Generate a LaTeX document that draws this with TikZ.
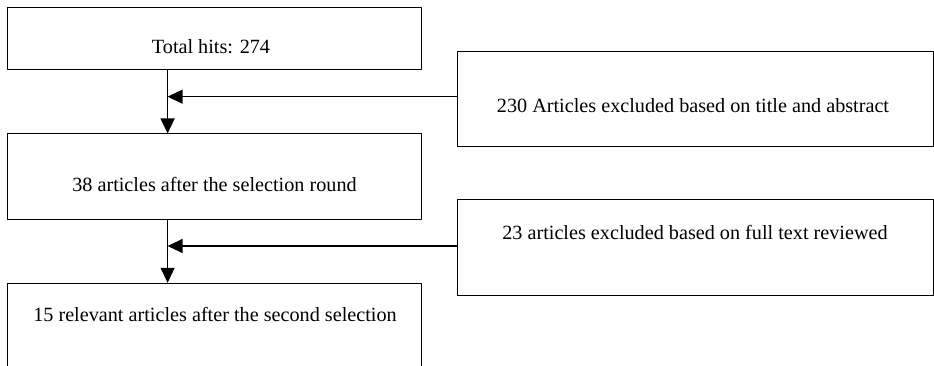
\documentclass[tikz,border=0pt]{standalone}
\usepackage{fontspec}
\setmainfont{Liberation Serif}
\usetikzlibrary{arrows.meta}

\begin{document}
\begin{tikzpicture}[line cap=round,line join=round,>={Triangle[length=15pt,width=14pt]},x=1pt,y=-1pt,
	box/.style={draw,line width=1pt,inner sep=0pt},
	txt/.style={anchor=base,inner sep=0pt,font=\fontsize{20.2}{24}\selectfont},
	flow/.style={->,line width=1.3pt}]
		\clip(0,0) rectangle (934,366);
		% left column
		\node[box,minimum width=414.7pt,minimum height=62pt] (hits) at (214.35,39) {};
		\node[box,minimum width=414.7pt,minimum height=85.3pt] (sel1) at (214.35,176.65) {};
		\node[box,minimum width=414.7pt,minimum height=96.7pt] (sel2) at (214.35,331.65) {};
		% excluded
		\node[box,minimum width=476pt,minimum height=95pt] (excl1) at (695,99.5) {};
		\node[box,minimum width=476pt,minimum height=95pt] (excl2) at (695,247.5) {};
		% texts
		\node[txt] (hitstext) at (211,53.3) {Total hits: 274};
		\node[txt] (sel1text) at (214.5,191.7) {38 articles after the selection round};
		\node[txt] (sel2text) at (215,321.7) {15 relevant articles after the second selection};
		\node[txt] (excl1text) at (693,113) {230 Articles excluded based on title and abstract};
		\node[txt] (excl2text) at (695,240) {23 articles excluded based on full text reviewed};
		% arrows
		\coordinate (j1) at (167.6,96.7);
		\coordinate (j2) at (167.6,246);
		\draw[flow] (j1 |- hits.south) -- (j1 |- sel1.north);
		\draw[flow] (excl1.west |- j1) -- (j1);
		\draw[flow] (j2 |- sel1.south) -- (j2 |- sel2.north);
		\draw[flow] (excl2.west |- j2) -- (j2);
\end{tikzpicture}
\end{document}
